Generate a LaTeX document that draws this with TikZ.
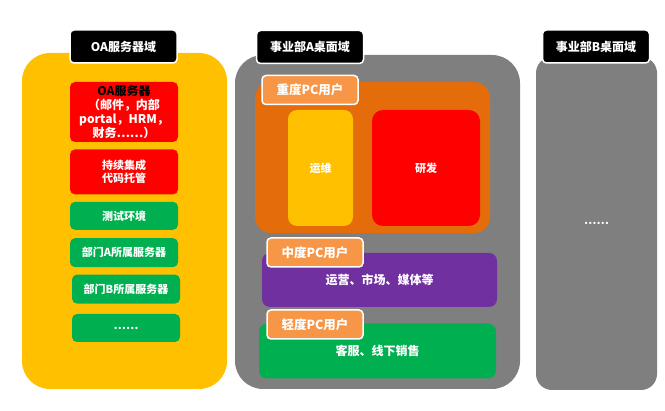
\documentclass[tikz,border=0pt]{standalone}
\usepackage{fontspec}
\setmainfont{Noto Sans CJK SC}
\usepackage{tikz}
\usetikzlibrary{positioning}
\definecolor{gelb}{HTML}{FFC000}
\definecolor{grau}{HTML}{7F7F7F}
\definecolor{rot}{HTML}{FF0000}
\definecolor{gruen}{HTML}{00B050}
\definecolor{dunkelorange}{HTML}{E46C0A}
\definecolor{hellorange}{HTML}{F79646}
\definecolor{lila}{HTML}{7030A0}
\tikzset{
    %Define style for the big zones
    zone/.style={
           rectangle,
           rounded corners=28pt,
           inner sep=0pt,
           text=white,
           font=\fontsize{11}{13}\selectfont\bfseries},
    %Define style for the black titles
    titel/.style={
           rectangle,
           rounded corners=4pt,
           fill=black,
           draw=white, line width=1.5pt,
           text=white,
           minimum width=107pt,
           minimum height=33pt,
           inner sep=0pt,
           font=\fontsize{12}{14}\selectfont\bfseries},
    % Define style for boxes
    kasten/.style={
           rectangle,
           rounded corners=5pt,
           minimum width=108pt,
           inner sep=0pt,
           text=white,
           align=center,
           font=\fontsize{11}{13.5}\selectfont\bfseries},
    % Define style for the user tags
    etikett/.style={
           rectangle,
           rounded corners=4pt,
           fill=hellorange,
           draw=white, line width=1.5pt,
           text=white,
           minimum width=96pt,
           minimum height=29pt,
           inner sep=0pt,
           font=\fontsize{12.5}{14}\selectfont\bfseries}
}

\begin{document}
\begin{tikzpicture}[x=1pt, y=-1pt, node distance=7pt]
 \useasboundingbox (0,0) rectangle (665,411);
 %zones
 \node[zone, fill=gelb, minimum width=205pt, minimum height=336pt] (oazone) at (124.5,221) {};
 \node[zone, fill=grau, minimum width=285pt, minimum height=334pt] (azone) at (377.5,222) {};
 \node[zone, fill=grau, rounded corners=16pt, minimum width=121pt, minimum height=333pt] (bzone) at (596.5,223.5) {……};
 %titles
 \node[titel] (oatitel) at (123.5,46.5) {OA服务器域};
 \node[titel] (atitel) at (310,47) {事业部A桌面域};
 \node[titel] (btitel) at (596,46.5) {事业部B桌面域};
 % OA server stack
 \node[kasten, fill=rot, minimum height=60pt, font=\fontsize{12}{13.7}\selectfont\bfseries] (oaserver) at (124,112)
   {\textcolor{black}{OA服务器}\\（邮件，内部\\portal，HRM，\\财务……）};
 \node[kasten, fill=rot, minimum height=45pt, below=of oaserver] (ci) {持续集成\\代码托管};
 \node[kasten, fill=gruen, minimum height=28pt, below=of ci] (testumg) {测试环境};
 \node[kasten, fill=gruen, minimum height=29pt, below=8pt of testumg] (abtA) {部门A所属服务器};
 \node[kasten, fill=gruen, minimum height=29pt, below=of abtA, xshift=2pt] (abtB) {部门B所属服务器};
 \node[kasten, fill=gruen, minimum height=28pt, below=10pt of abtB] (weitere) {……};
 % desktop zone A
 \node[zone, fill=dunkelorange, rounded corners=16pt, minimum width=235pt, minimum height=151pt] (schwer) at (372.5,157.5) {};
 \node[kasten, fill=gelb, rounded corners=9pt, minimum width=65pt, minimum height=116pt] (betrieb) at (320.5,168) {运维};
 \node[kasten, fill=rot, rounded corners=11pt, minimum width=108pt, minimum height=116pt] (entw) at (426,168) {研发};
 \node[etikett] (tagschwer) at (310,90) {重度PC用户};
 \node[kasten, fill=lila, rounded corners=8pt, minimum width=235pt, minimum height=54pt, font=\fontsize{12}{14}\selectfont\bfseries] (mittel) at (379.5,280) {运营、市场、媒体等};
 \node[etikett] (tagmittel) at (315,252.5) {中度PC用户};
 \node[kasten, fill=gruen, rounded corners=8pt, minimum width=237pt, minimum height=55pt, font=\fontsize{12}{14}\selectfont\bfseries] (leicht) at (377.5,351) {客服、线下销售};
 \node[etikett] (tagleicht) at (315,324.5) {轻度PC用户};
\end{tikzpicture}
\end{document}
